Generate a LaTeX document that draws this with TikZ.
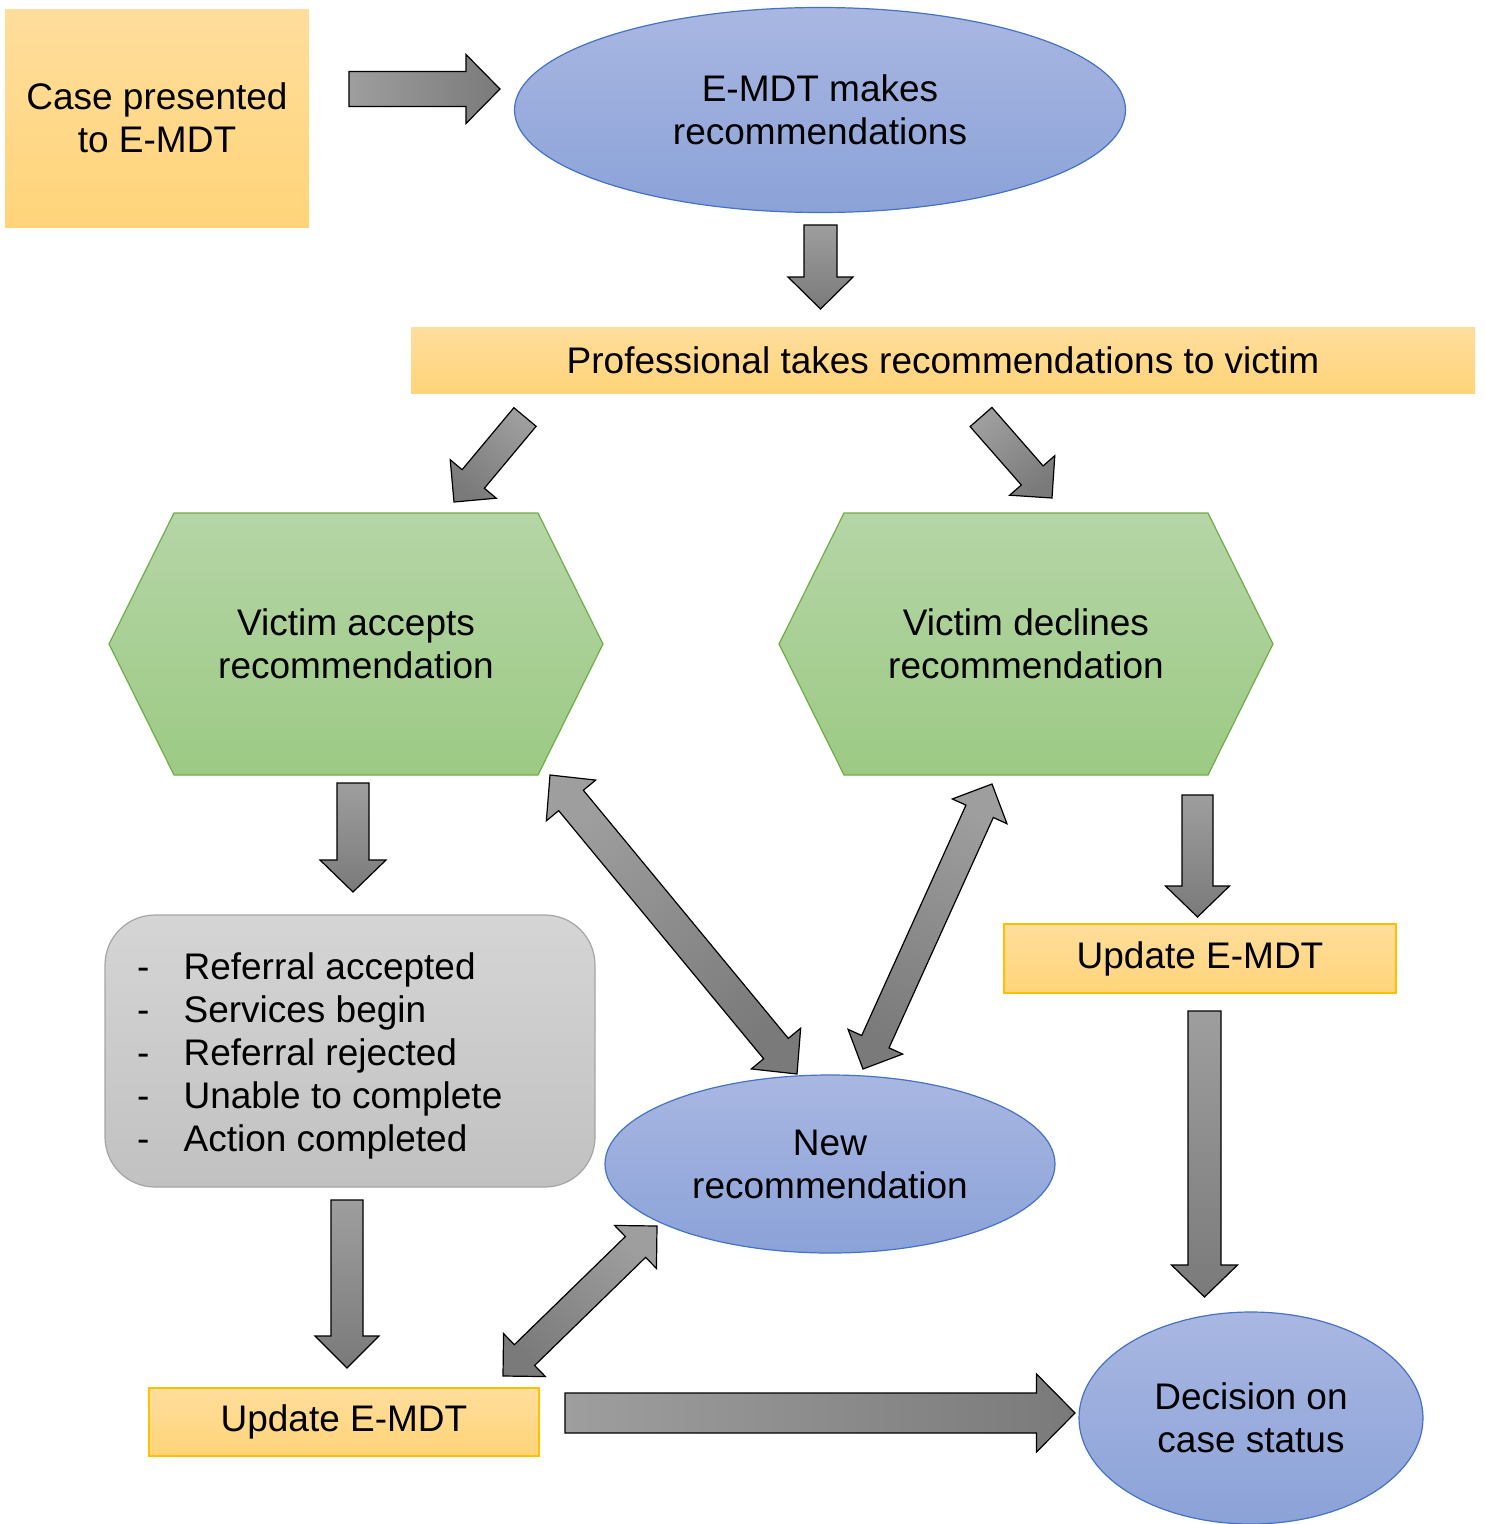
\documentclass[tikz,border=0pt]{standalone}
\usepackage{fontspec}
\setmainfont{Liberation Sans}
\usetikzlibrary{calc,shapes.geometric}

\definecolor{orangetop}{RGB}{255,221,156}
\definecolor{orangebot}{RGB}{255,212,121}
\definecolor{orangeline}{RGB}{255,192,0}
\definecolor{bluetop}{RGB}{169,183,226}
\definecolor{bluebot}{RGB}{139,162,216}
\definecolor{blueline}{RGB}{68,114,196}
\definecolor{greentop}{RGB}{181,213,166}
\definecolor{greenbot}{RGB}{156,202,132}
\definecolor{greenline}{RGB}{112,173,71}
\definecolor{greytop}{RGB}{213,213,213}
\definecolor{greybot}{RGB}{193,193,193}
\definecolor{greyline}{RGB}{165,165,165}
\definecolor{arrowlight}{RGB}{158,158,158}
\definecolor{arrowdark}{RGB}{122,122,122}

\tikzset{
  every node/.style={font=\fontsize{37}{43}\selectfont, align=center, inner sep=0pt},
  orangebox/.style={rectangle, top color=orangetop, bottom color=orangebot},
  updatebox/.style={orangebox, draw=orangeline, line width=1.2pt,
    minimum width=390pt, minimum height=68pt},
  blueoval/.style={ellipse, top color=bluetop, bottom color=bluebot,
    draw=blueline, line width=1.2pt},
  hexfill/.style={top color=greentop, bottom color=greenbot, draw=greenline,
    line width=1.2pt, line join=miter},
  greybox/.style={rectangle, rounded corners=50pt, top color=greytop,
    bottom color=greybot, draw=greyline, line width=1.2pt},
  barrow/.style={draw=black, line width=1.2pt, line join=miter,
    top color=arrowlight, bottom color=arrowdark},
}

% block arrow: [extra style]{tail}{tip}{shaft half width}{head half width}{head length}
\newcommand\blockarrow[6][]{%
  \path[barrow,#1] let \p1=(#2), \p2=(#3),
      \n1={atan2(\y2-\y1,\x2-\x1)},
      \n2={veclen(\x2-\x1,\y2-\y1)-#6} in
    ($(\p1)+(\n1+90:#4)$) -- ++(\n1:\n2) -- ++(\n1+90:#5-#4) -- (\p2)
    -- ($(\p1)+(\n1:\n2)+(\n1-90:#5)$) -- ++(\n1+90:#5-#4)
    -- ($(\p1)+(\n1-90:#4)$) -- cycle;}

% double-headed block arrow: [extra style]{tip A}{tip B}{shaft half}{head half}{head length}
\newcommand\dblarrow[6][]{%
  \path[barrow,#1] let \p1=(#2), \p2=(#3),
      \n1={atan2(\y2-\y1,\x2-\x1)} in
    (\p1) -- ($(\p1)+(\n1:#6)+(\n1+90:#5)$) -- ++(\n1-90:#5-#4)
    -- ($(\p2)+(\n1+180:#6)+(\n1+90:#4)$) -- ++(\n1+90:#5-#4) -- (\p2)
    -- ($(\p2)+(\n1+180:#6)+(\n1-90:#5)$) -- ++(\n1+90:#5-#4)
    -- ($(\p1)+(\n1:#6)+(\n1-90:#4)$) -- ++(\n1-90:#5-#4) -- cycle;}

% green hexagon around a centre coordinate
\newcommand\hexagonat[1]{%
  \path[hexfill] ($(#1)+(-247,0)$) -- ($(#1)+(-182,131)$) -- ($(#1)+(182,131)$)
    -- ($(#1)+(247,0)$) -- ($(#1)+(182,-131)$) -- ($(#1)+(-182,-131)$) -- cycle;}

\begin{document}
\begin{tikzpicture}[x=1pt, y=1pt]
\useasboundingbox (0,0) rectangle (1484,-1524);

% boxes and ovals
\node[orangebox, minimum width=304pt, minimum height=218pt] (case) at (157,-118)
  {Case presented\\to E-MDT};
\node[blueoval, minimum width=611pt, minimum height=205pt] (emdt) at (820,-110)
  {E-MDT makes\\recommendations};
\node[orangebox, minimum width=1064pt, minimum height=66pt] (prof) at (943,-360)
  {Professional takes recommendations to victim};

\coordinate (acc-c) at (356,-644);
\hexagonat{acc-c}
\node (acc) at (acc-c) {Victim accepts\\recommendation};
\coordinate (dec-c) at (1026,-644);
\hexagonat{dec-c}
\node (dec) at (dec-c) {Victim declines\\recommendation};

\node[greybox, minimum width=490pt, minimum height=272pt] (status) at (350,-1051) {};
\node[anchor=west, align=left] (statuslist) at ($(status.west)+(32.4,-5)$)
  {\makebox[46.6pt][l]{-}Referral accepted\\
   \makebox[46.6pt][l]{-}Services begin\\
   \makebox[46.6pt][l]{-}Referral rejected\\
   \makebox[46.6pt][l]{-}Unable to complete\\
   \makebox[46.6pt][l]{-}Action completed};

\node[updatebox, minimum width=392pt, minimum height=69pt] (updR) at (1200,-958.5) {Update E-MDT};
\node[updatebox] (updL) at (344,-1422) {Update E-MDT};
\node[blueoval, minimum width=450pt, minimum height=178pt] (newrec) at (830,-1164)
  {New\\recommendation};
\node[blueoval, minimum width=344pt, minimum height=212pt] (decision) at (1251,-1418)
  {Decision on\\case status};

% arrow end points
\coordinate (a1s) at (349,-89);      \coordinate (a1e) at (500,-89);
\coordinate (a2s) at (820.5,-225);   \coordinate (a2e) at (820.5,-309);
\coordinate (a3s) at (525,-417);     \coordinate (a3e) at (454,-502);
\coordinate (a4s) at (981,-417);     \coordinate (a4e) at (1052,-498);
\coordinate (a5s) at (353,-783);     \coordinate (a5e) at (353,-892);
\coordinate (a6s) at (550,-775);     \coordinate (a6e) at (797,-1074);
\coordinate (a7s) at (992,-784);     \coordinate (a7e) at (863,-1069);
\coordinate (a8s) at (1197.5,-795);  \coordinate (a8e) at (1197.5,-917);
\coordinate (a9s) at (1204.5,-1011); \coordinate (a9e) at (1204.5,-1297);
\coordinate (a10s) at (347,-1200);   \coordinate (a10e) at (347,-1368);
\coordinate (a11s) at (503,-1376);   \coordinate (a11e) at (657,-1226);
\coordinate (a12s) at (565,-1413);   \coordinate (a12e) at (1075,-1413);

% block arrows
\blockarrow[shading angle=90]{a1s}{a1e}{17.5}{34.5}{34}
\blockarrow{a2s}{a2e}{16.5}{32.5}{32}
\blockarrow[shading angle=320]{a3s}{a3e}{14.5}{30}{30}
\blockarrow[shading angle=41]{a4s}{a4e}{14.5}{30}{30}
\blockarrow{a5s}{a5e}{16}{33}{32}
\dblarrow[shading angle=40]{a6s}{a6e}{16}{32}{33}
\dblarrow[shading angle=336]{a7s}{a7e}{15}{30}{30}
\blockarrow{a8s}{a8e}{15.5}{32}{31}
\blockarrow{a9s}{a9e}{16.5}{33}{32}
\blockarrow{a10s}{a10e}{16}{32}{32}
\dblarrow[shading angle=315]{a11s}{a11e}{14.5}{30}{30}
\blockarrow[shading angle=90]{a12s}{a12e}{20}{39}{38.5}
\end{tikzpicture}
\end{document}
